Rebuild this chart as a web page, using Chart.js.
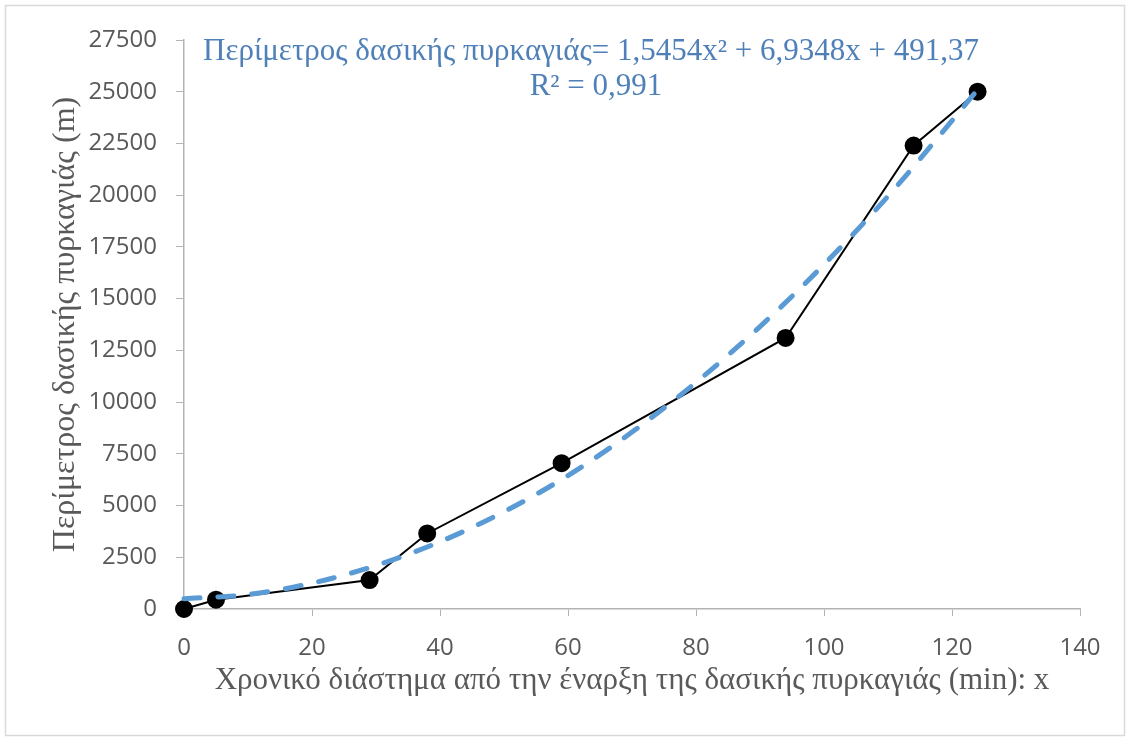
<!DOCTYPE html>
<html>
<head>
<meta charset="utf-8">
<script src="https://cdn.jsdelivr.net/npm/chart.js@4.4.0/dist/chart.umd.min.js"></script>
<style>
  body { margin: 0; background: #fff; }
  canvas { display: block; }
</style>
</head>
<body>
<canvas id="myChart" width="1130" height="742"></canvas>
<script>
// measured points (min, m)
const timeMin = [0, 5, 29, 38, 59, 94, 114, 124];
const perimeter = [0, 450, 1400, 3650, 7050, 13100, 22400, 25000];

// dashed trend line
const trendX = [0, 10, 20, 30, 40, 50, 60, 70, 80, 90, 100, 110, 120, 124];
const trendY = [500, 700, 1250, 2100, 3250, 4700, 6450, 8550, 10950, 13650, 16650, 19950, 23600, 25100];

const xTicks = [0, 20, 40, 60, 80, 100, 120, 140];
const yTicks = [0, 2500, 5000, 7500, 10000, 12500, 15000, 17500, 20000, 22500, 25000, 27500];

const eqLine1 = 'Περίμετρος δασικής πυρκαγιάς= 1,5454x² + 6,9348x + 491,37';
const eqLine2 = 'R² = 0,991';

function toPoints(xs, ys) {
    return xs.map(function (x, i) { return { x: x, y: ys[i] }; });
}

// white background, frame and the trendline equation
const extras = {
    id: 'extras',
    beforeDraw: function (chart) {
        const c = chart.ctx;
        c.save();
        c.fillStyle = '#ffffff';
        c.fillRect(0, 0, chart.width, chart.height);
        c.strokeStyle = '#d9d9d9';
        c.lineWidth = 1.5;
        c.strokeRect(5.5, 5.5, chart.width - 11, chart.height - 12);
        c.restore();
    },
    afterDraw: function (chart) {
        const c = chart.ctx;
        c.save();
        c.fillStyle = '#4f80b8';
        c.font = '31px "Liberation Serif", serif';
        c.textAlign = 'center';
        c.textBaseline = 'alphabetic';
        c.fillText(eqLine1, 591, 60);
        c.fillText(eqLine2, 596, 95);
        c.restore();
    }
};

function myLoadFunction() {
    const ctx = document.getElementById('myChart').getContext('2d');
    const axisGrey = '#b3b3b3';
    const textGrey = '#595959';
    var myChartConfig = {
        type: 'scatter',
        data: {
            datasets: [
                {
                    label: 'Trend',
                    data: toPoints(trendX, trendY),
                    showLine: true,
                    borderColor: '#5b9bd5',
                    borderWidth: 5,
                    borderDash: [16, 18],
                    borderCapStyle: 'round',
                    cubicInterpolationMode: 'monotone',
                    pointRadius: 0,
                    clip: false,
                    order: 0
                },
                {
                    label: 'Περίμετρος',
                    data: toPoints(timeMin, perimeter),
                    showLine: true,
                    borderColor: '#000000',
                    borderWidth: 2,
                    pointRadius: 8,
                    pointBackgroundColor: '#000000',
                    pointBorderColor: '#000000',
                    clip: false,
                    order: 1
                }
            ]
        },
        plugins: [extras],
        options: {
            responsive: false,
            animation: false,
            layout: { padding: { left: 0, top: 40, right: 50, bottom: 0 } },
            plugins: {
                legend: { display: false },
                tooltip: { enabled: false }
            },
            scales: {
                x: {
                    type: 'linear',
                    min: 0,
                    max: 140,
                    afterFit: function (scale) { scale.height = 133; },
                    afterBuildTicks: function (scale) {
                        scale.ticks = xTicks.map(function (v) { return { value: v }; });
                    },
                    grid: { drawOnChartArea: false, color: axisGrey, tickLength: 7, tickColor: axisGrey },
                    border: { color: axisGrey, width: 1.5 },
                    ticks: {
                        color: textGrey,
                        padding: 18,
                        font: { family: '"Open Sans", sans-serif', size: 24 },
                        callback: function (v) { return String(v); }
                    },
                    title: {
                        display: true,
                        text: 'Χρονικό διάστημα από την έναρξη της δασικής πυρκαγιάς (min): x',
                        color: textGrey,
                        font: { family: '"Liberation Serif", serif', size: 31 },
                        padding: { top: 0, bottom: 43 }
                    }
                },
                y: {
                    type: 'linear',
                    min: 0,
                    max: 27500,
                    afterFit: function (scale) { scale.width = 184; },
                    afterBuildTicks: function (scale) {
                        scale.ticks = yTicks.map(function (v) { return { value: v }; });
                    },
                    grid: { drawOnChartArea: false, color: axisGrey, tickLength: 8, tickColor: axisGrey },
                    border: { color: axisGrey, width: 1.5 },
                    ticks: {
                        color: textGrey,
                        padding: 19,
                        font: { family: '"Open Sans", sans-serif', size: 24 },
                        callback: function (v) { return String(v); }
                    },
                    title: {
                        display: true,
                        text: 'Περίμετρος δασικής πυρκαγιάς (m)',
                        color: textGrey,
                        font: { family: '"Liberation Serif", serif', size: 32 },
                        padding: { top: 46, bottom: 0 }
                    }
                }
            }
        }
    };
    const myChart = new Chart(ctx, myChartConfig);
}

document.addEventListener('DOMContentLoaded', myLoadFunction);
</script>
</body>
</html>
